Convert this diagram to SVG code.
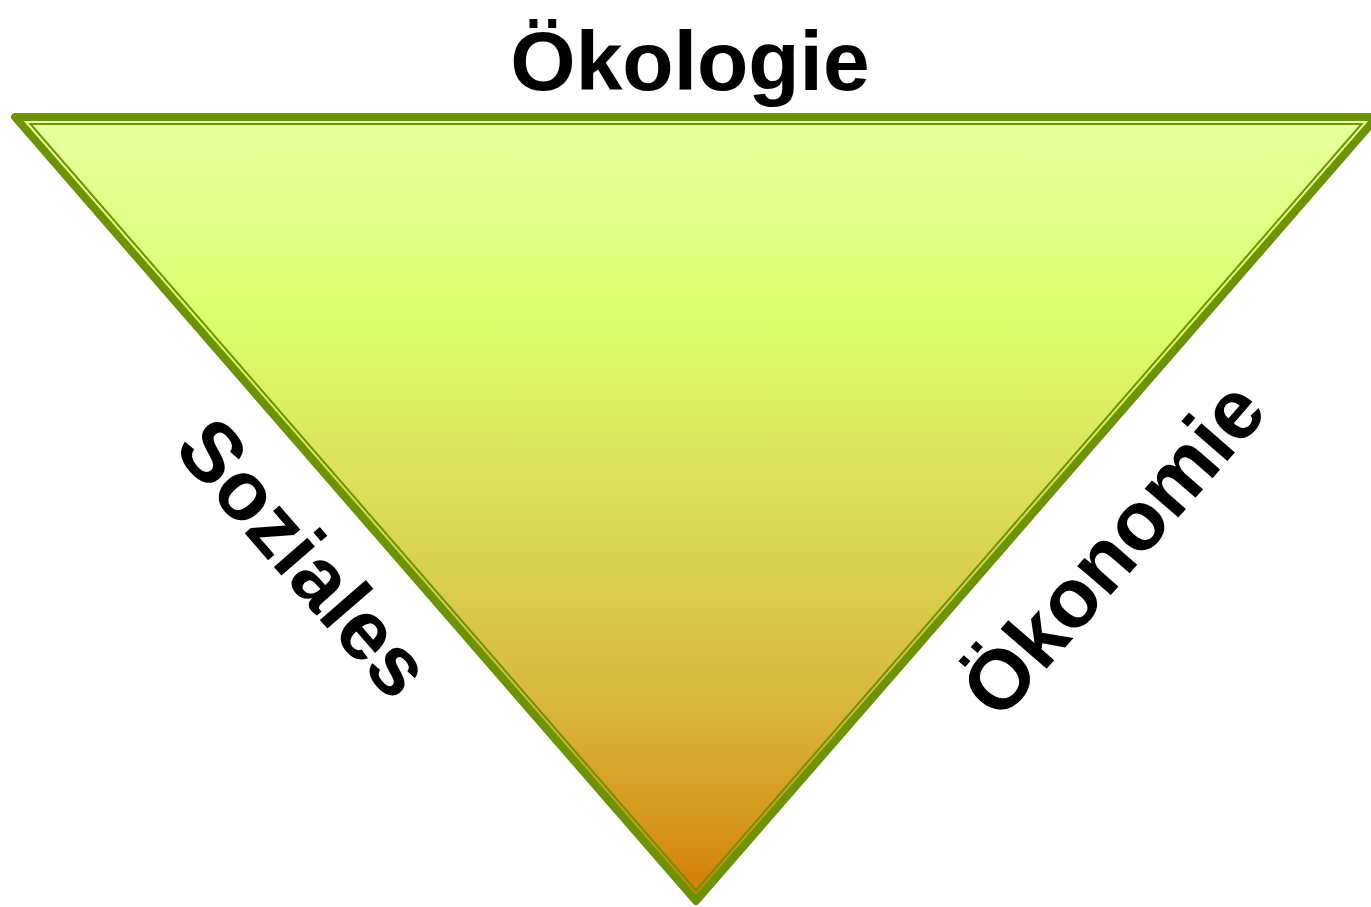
<svg xmlns="http://www.w3.org/2000/svg" width="1371" height="907" viewBox="0 0 1371 907">
<defs>
<linearGradient id="fillGrad" gradientUnits="userSpaceOnUse" x1="0" y1="117" x2="0" y2="902">
<stop offset="0" stop-color="#e8ff9e"/>
<stop offset="0.25" stop-color="#dbff6e"/>
<stop offset="0.3" stop-color="#dcf868"/>
<stop offset="0.55" stop-color="#d9d452"/>
<stop offset="0.75" stop-color="#d9b63c"/>
<stop offset="0.9" stop-color="#d6961a"/>
<stop offset="1" stop-color="#d47a00"/>
</linearGradient>
<style>
.lbl{font-family:"Liberation Sans",Arial,sans-serif;font-weight:bold;font-size:84px;fill:#000;text-anchor:middle}
.outer{fill:url(#fillGrad);stroke:#6b9400;stroke-width:8;stroke-linejoin:round}
.inner{fill:none;stroke:#6b9400;stroke-width:2;stroke-linejoin:miter}
</style>
</defs>
<g id="triangle">
<polygon class="outer" points="15,117 1377,117 696,901"/>
<polygon class="inner" points="30.4,124 1361.6,124 696,890.5"/>
</g>
<g id="connectors"/>
<g id="label-oekologie">
<text class="lbl" x="690" y="90">Ökologie</text>
</g>
<g id="label-soziales">
<text class="lbl" transform="translate(305,557) rotate(49)" x="0" y="30">Soziales</text>
</g>
<g id="label-oekonomie">
<text class="lbl" transform="translate(1112,548) rotate(-49)" x="0" y="30">Ökonomie</text>
</g>
</svg>
